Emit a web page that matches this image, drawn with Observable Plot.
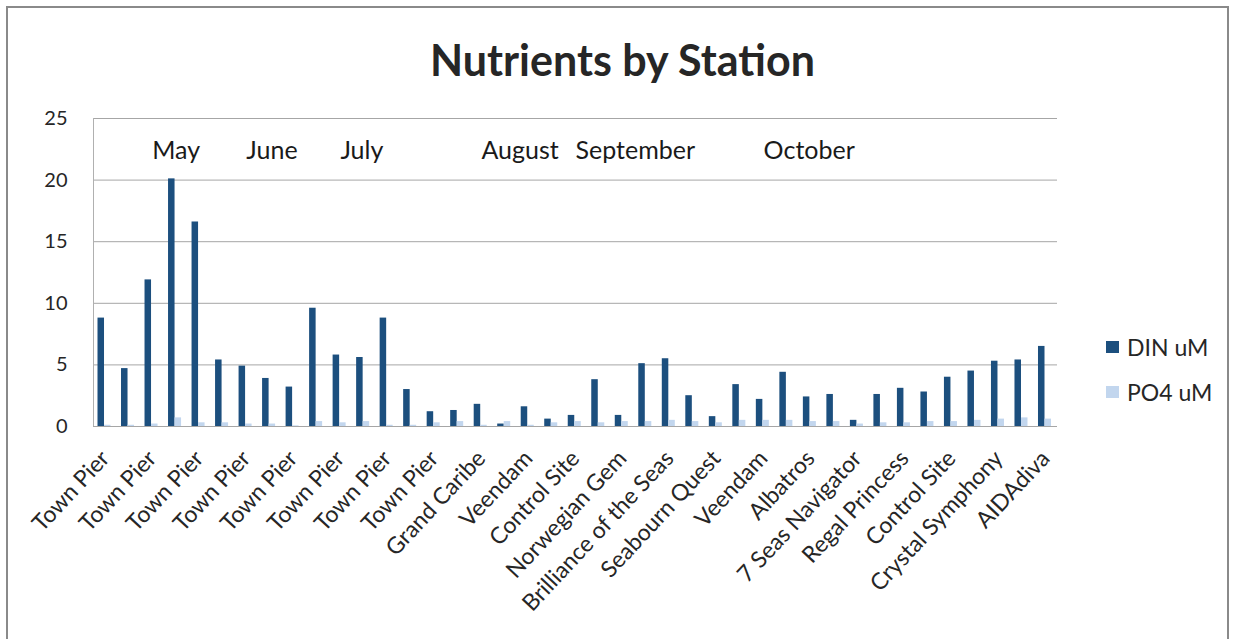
<!DOCTYPE html>
<html>
<head>
<meta charset="utf-8">
<script src="https://cdn.jsdelivr.net/npm/d3@7"></script>
<script src="https://cdn.jsdelivr.net/npm/@observablehq/plot@0.6"></script>
<style>
  html, body { margin: 0; padding: 0; background: #fff; }
  #wrap { position: relative; width: 1235px; height: 639px; overflow: hidden; font-family: Lato, "Open Sans", sans-serif; }
  #border { position: absolute; left: 6px; top: 6px; width: 1223px; height: 700px; border: 2px solid #8a8a8a; box-sizing: border-box; }
  #title { position: absolute; left: 0; width: 1245px; top: 34px; text-align: center; font-size: 43px; font-weight: bold; color: #262626; }
  #chart { position: absolute; left: 0; top: 0; }
  .leg { position: absolute; left: 1106px; font-size: 23px; color: #262626; display: flex; align-items: center; }
  .leg span.sw { display: inline-block; width: 13px; height: 12px; margin-right: 8px; }
</style>
</head>
<body>
<div id="wrap">
  <div id="border"></div>
  <div id="chart"></div>
  <div id="title"></div>
  <div id="legend"></div>
</div>
<script>
const title = "Nutrients by Station";
const seriesNames = ["DIN uM", "PO4 uM"];
const seriesColors = ["#1c4f7e", "#c2d6ee"];
// labels shown under every other bar (bars 1, 3, 5, ...)
const stationLabels = ["Town Pier", "Town Pier", "Town Pier", "Town Pier", "Town Pier", "Town Pier", "Town Pier", "Town Pier",
  "Grand Caribe", "Veendam", "Control Site", "Norwegian Gem", "Brilliance of the Seas", "Seabourn Quest",
  "Veendam", "Albatros", "7 Seas Navigator", "Regal Princess", "Control Site", "Crystal Symphony", "AIDAdiva"];
const din = [8.8, 4.7, 11.9, 20.1, 16.6, 5.4, 4.9, 3.9, 3.2, 9.6, 5.8, 5.6, 8.8,
  3.0, 1.2, 1.3, 1.8, 0.2, 1.6, 0.6, 0.9, 3.8, 0.9, 5.1, 5.5, 2.5,
  0.8, 3.4, 2.2, 4.4, 2.4, 2.6, 0.5, 2.6, 3.1, 2.8, 4.0, 4.5, 5.3, 5.4, 6.5];
const po4 = [0.1, 0.1, 0.2, 0.7, 0.3, 0.3, 0.2, 0.2, 0.05, 0.4, 0.3, 0.4, 0.1,
  0.1, 0.3, 0.4, 0.1, 0.4, 0.1, 0.3, 0.4, 0.3, 0.4, 0.4, 0.5, 0.4,
  0.3, 0.5, 0.5, 0.5, 0.4, 0.4, 0.2, 0.3, 0.3, 0.4, 0.4, 0.5, 0.6, 0.7, 0.6];
const months = ["May", "June", "July", "August", "September", "October"];
const monthBar = [2, 6, 10, 16, 20, 28];
const monthY = 22.4;
const yTicks = [0, 5, 10, 15, 20, 25];

const idx = d3.range(din.length);
const dinData = idx.map(i => ({i, v: din[i]}));
const po4Data = idx.map(i => ({i, v: po4[i]}));
const monthData = months.map((m, k) => ({m, i: monthBar[k], y: monthY}));

const plot = Plot.plot({
  width: 1235,
  height: 639,
  marginTop: 118,
  marginBottom: 213,
  marginLeft: 93,
  marginRight: 178,
  style: {fontFamily: "Lato, 'Open Sans', sans-serif", fontSize: "20px", color: "#262626", background: "transparent"},
  x: {type: "band", domain: idx, padding: 0, round: false, axis: null},
  y: {domain: [0, 25], axis: null},
  marks: [
    Plot.ruleY(yTicks, {stroke: "#a6a6a6", strokeWidth: 1}),
    Plot.ruleX([0], {x: () => 0, stroke: "#b0b0b0", dx: -11.75, y1: 0, y2: 25}),
    Plot.barY(dinData, {x: "i", y: "v", fill: seriesColors[0], insetLeft: 4.5, insetRight: 12.5}),
    Plot.barY(po4Data, {x: "i", y: "v", fill: seriesColors[1], insetLeft: 11, insetRight: 6}),
    Plot.axisY({ticks: yTicks, tickSize: 0, tickPadding: 26, fontSize: 20, label: null}),
    Plot.axisX({tickSize: 0, tickPadding: 28, tickRotate: -47, fontSize: 23, label: null,
      tickFormat: i => i % 2 === 0 ? stationLabels[i / 2] : ""}),
    Plot.text(monthData, {x: "i", y: "y", text: "m", textAnchor: "start", fontSize: 25, fill: "#1a1a1a"})
  ]
});
document.getElementById("chart").appendChild(plot);
document.getElementById("title").textContent = title;

const legend = document.getElementById("legend");
const legTops = [333, 378];
seriesNames.forEach((n, k) => {
  const d = document.createElement("div");
  d.className = "leg";
  d.style.top = legTops[k] + "px";
  d.innerHTML = `<span class="sw" style="background:${seriesColors[k]}"></span><span>${n}</span>`;
  legend.appendChild(d);
});
</script>
</body>
</html>
